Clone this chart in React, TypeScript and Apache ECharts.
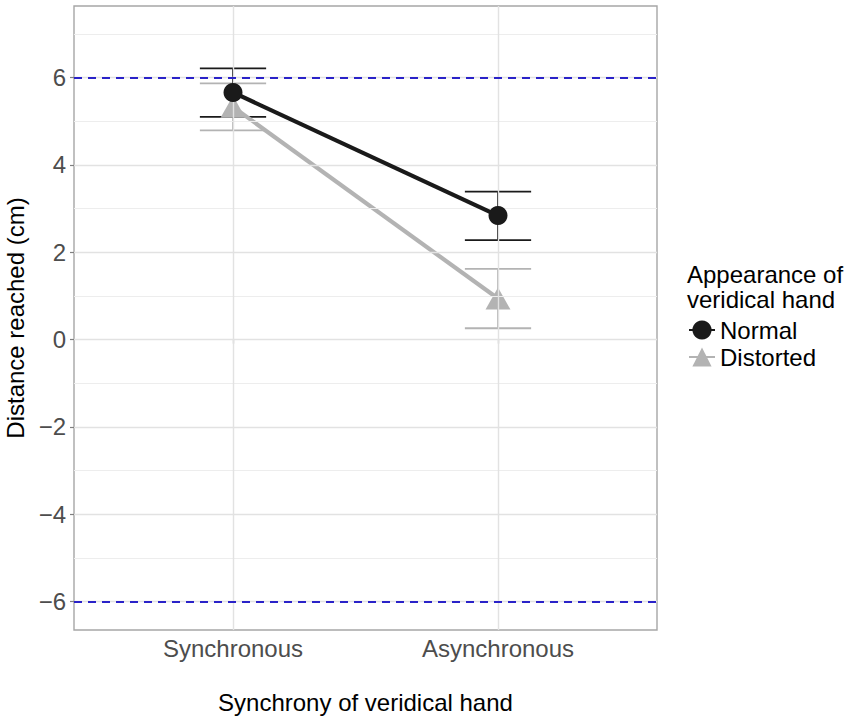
import React, { useEffect, useRef } from "react";
import * as echarts from "echarts";

const categories = ["Synchronous", "Asynchronous"];
const categoryPos = [1, 2];
const normalMean = [5.66, 2.84];
const normalLow = [5.1, 2.28];
const normalHigh = [6.21, 3.39];
const distortedMean = [5.33, 0.94];
const distortedLow = [4.79, 0.26];
const distortedHigh = [5.87, 1.62];
const yTicks = [-6, -4, -2, 0, 2, 4, 6];
const yMinor = [-5, -3, -1, 1, 3, 5, 7];
const refLines = [6, -6];

const FONT = "'Liberation Sans', Arial, Helvetica, sans-serif";
const CAP_HALF = 0.125;

function errorSeries(name: string, low: number[], high: number[], color: string, z: number) {
  return {
    type: "custom",
    name: name + "-err",
    z,
    silent: true,
    encode: { x: 0, y: [1, 2] },
    data: categoryPos.map((x, i) => [x, low[i], high[i]]),
    renderItem: (params: any, api: any) => {
      const x = api.value(0);
      const lo = api.value(1);
      const hi = api.value(2);
      const pHi = api.coord([x, hi]);
      const pLo = api.coord([x, lo]);
      const l = api.coord([x - CAP_HALF, hi])[0];
      const r = api.coord([x + CAP_HALF, hi])[0];
      const style = { stroke: color, lineWidth: 1.8 };
      return {
        type: "group",
        children: [
          { type: "line", shape: { x1: pHi[0], y1: pHi[1], x2: pLo[0], y2: pLo[1] }, style },
          { type: "line", shape: { x1: l, y1: pHi[1], x2: r, y2: pHi[1] }, style },
          { type: "line", shape: { x1: l, y1: pLo[1], x2: r, y2: pLo[1] }, style },
        ],
      };
    },
  };
}

export default function App() {
  const ref = useRef<HTMLDivElement>(null);
  useEffect(() => {
    if (!ref.current) return;
    const chart = echarts.init(ref.current, undefined, { renderer: "svg" });
    const option: any = {
      animation: false,
      backgroundColor: "#ffffff",
      textStyle: { fontFamily: FONT },
      grid: {
        left: 74,
        top: 6,
        right: 193,
        bottom: 91,
        show: true,
        borderColor: "#a6a6a6",
        borderWidth: 1.4,
        backgroundColor: "transparent",
        containLabel: false,
        outerBoundsMode: "none",
      },
      xAxis: {
        type: "value",
        min: 0.4,
        max: 2.6,
        axisLine: { show: false },
        splitLine: { show: false },
        axisTick: { show: true, length: 4, customValues: categoryPos, lineStyle: { color: "#7f7f7f", width: 1.2 } },
        axisLabel: {
          customValues: categoryPos,
          margin: 6,
          fontSize: 24,
          color: "#4d4d4d",
          fontFamily: FONT,
          formatter: (v: number) => {
            const i = categoryPos.indexOf(v);
            return i >= 0 ? categories[i] : "";
          },
        },
        name: "Synchrony of veridical hand",
        nameLocation: "middle",
        nameGap: 60,
        nameTextStyle: { fontSize: 24, color: "#000", fontFamily: FONT },
      },
      yAxis: {
        type: "value",
        min: -6.65,
        max: 7.64,
        axisLine: { show: false },
        splitLine: { show: false },
        axisTick: { show: true, length: 4, customValues: yTicks, lineStyle: { color: "#7f7f7f", width: 1.2 } },
        axisLabel: {
          customValues: yTicks,
          margin: 8,
          fontSize: 24,
          color: "#4d4d4d",
          fontFamily: FONT,
          formatter: (v: number) => String(v).replace("-", "\u2212"),
        },
        name: "Distance reached (cm)",
        nameLocation: "middle",
        nameGap: 45,
        nameTextStyle: { fontSize: 24, color: "#000", fontFamily: FONT },
      },
      legend: {
        data: ["Normal", "Distorted"],
        orient: "vertical",
        left: 688,
        top: 318,
        itemWidth: 26,
        itemHeight: 24,
        itemGap: 3,
        padding: 0,
        textStyle: { fontSize: 24, color: "#000", fontFamily: FONT },
      },
      graphic: [
        {
          type: "text",
          left: 687,
          top: 262,
          style: {
            text: "Appearance of\nveridical hand",
            fontSize: 24,
            lineHeight: 25,
            fill: "#000",
            fontFamily: FONT,
          },
        },
      ],
      series: [
        {
          type: "line",
          name: "grid",
          z: 0,
          silent: true,
          data: [],
          markLine: {
            silent: true,
            symbol: "none",
            label: { show: false },
            data: [
              ...yMinor.map((v) => ({ yAxis: v, lineStyle: { color: "#ededed", width: 1, type: "solid" } })),
              ...yTicks.map((v) => ({ yAxis: v, lineStyle: { color: "#e2e2e2", width: 1.4, type: "solid" } })),
              ...categoryPos.map((v) => ({ xAxis: v, lineStyle: { color: "#e2e2e2", width: 1.4, type: "solid" } })),
            ],
          },
        },
        errorSeries("Distorted", distortedLow, distortedHigh, "#b3b3b3", 2),
        errorSeries("Normal", normalLow, normalHigh, "#1a1a1a", 3),
        {
          type: "line",
          name: "Distorted",
          z: 4,
          data: categoryPos.map((x, i) => [x, distortedMean[i]]),
          symbol: "triangle",
          symbolSize: [25, 22],
          lineStyle: { color: "#b3b3b3", width: 4.2 },
          itemStyle: { color: "#b3b3b3" },
        },
        {
          type: "line",
          name: "Normal",
          z: 5,
          data: categoryPos.map((x, i) => [x, normalMean[i]]),
          symbol: "circle",
          symbolSize: 19,
          lineStyle: { color: "#1a1a1a", width: 4.2 },
          itemStyle: { color: "#1a1a1a" },
        },
        {
          type: "line",
          name: "ref",
          z: 6,
          silent: true,
          data: [],
          markLine: {
            silent: true,
            symbol: "none",
            label: { show: false },
            data: refLines.map((v) => ({ yAxis: v })),
            lineStyle: { color: "#2a22c8", width: 2, type: [8, 6] },
          },
        },
      ],
    };
    chart.setOption(option);
    return () => chart.dispose();
  }, []);
  return (
    <div
      ref={ref}
      style={{ position: "fixed", left: 0, top: 0, width: 850, height: 721, background: "#fff" }}
    />
  );
}
